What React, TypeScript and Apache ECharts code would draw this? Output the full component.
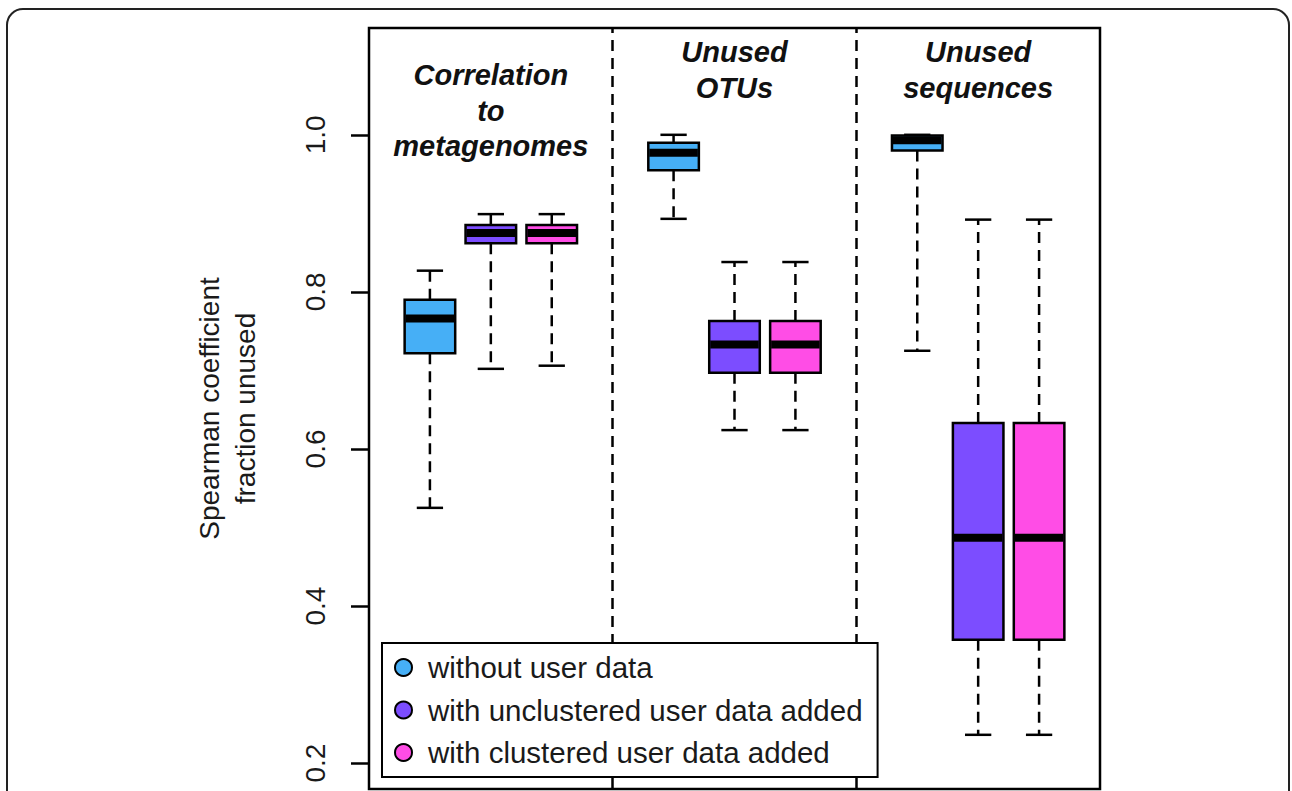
import React, { useEffect, useRef } from "react";
import * as echarts from "echarts";

// ---- data ----
const groupTitles = ["Correlation\nto\nmetagenomes", "Unused\nOTUs", "Unused\nsequences"];
const groupCenters = [2, 6, 10];
const groupTitleY = [110.5, 70, 70];
const separators = [4, 8];
const seriesNames = [
  "without user data",
  "with unclustered user data added",
  "with clustered user data added",
];
const seriesColors = ["#46AFF6", "#7C4DFF", "#FF4DE6"];
const seriesPositions = [
  [1, 5, 9],
  [2, 6, 10],
  [3, 7, 11],
];
// [lower whisker, q1, median, q3, upper whisker] for each group
const withoutUserData = [
  [0.525, 0.722, 0.766, 0.79, 0.827],
  [0.893, 0.955, 0.977, 0.99, 1.0],
  [0.725, 0.98, 0.993, 0.999, 1.0],
];
const unclusteredUserData = [
  [0.702, 0.862, 0.875, 0.885, 0.899],
  [0.624, 0.697, 0.733, 0.763, 0.838],
  [0.236, 0.357, 0.487, 0.633, 0.892],
];
const clusteredUserData = [
  [0.706, 0.862, 0.875, 0.885, 0.899],
  [0.624, 0.697, 0.733, 0.763, 0.838],
  [0.236, 0.357, 0.487, 0.633, 0.892],
];
const yTicks = [0.2, 0.4, 0.6, 0.8, 1.0];
const yMin = 0.167;
const yMax = 1.136;
const xMin = 0;
const xMax = 12;

const allSeries = [withoutUserData, unclusteredUserData, clusteredUserData];
const FONT = '"Liberation Sans", Arial, Helvetica, sans-serif';

export default function App() {
  const ref = useRef<HTMLDivElement>(null);

  useEffect(() => {
    if (!ref.current) return;
    const chart = echarts.init(ref.current, null, { renderer: "svg" });

    const dashed = { stroke: "#000", lineWidth: 2.5, lineDash: [11, 7] };
    const solid = { stroke: "#000", lineWidth: 2.5 };

    const renderItem = (params: any, api: any) => {
      const x = api.value(0);
      const lo = api.coord([x, api.value(1)]);
      const q1 = api.coord([x, api.value(2)]);
      const med = api.coord([x, api.value(3)]);
      const q3 = api.coord([x, api.value(4)]);
      const hi = api.coord([x, api.value(5)]);
      const w = api.size([0.83, 0])[0];
      const capW = w * 0.52;
      const cx = lo[0];
      const color = api.visual("color");
      return {
        type: "group",
        children: [
          { type: "line", shape: { x1: cx, y1: q3[1], x2: cx, y2: hi[1] }, style: dashed },
          { type: "line", shape: { x1: cx, y1: q1[1], x2: cx, y2: lo[1] }, style: dashed },
          { type: "line", shape: { x1: cx - capW / 2, y1: hi[1], x2: cx + capW / 2, y2: hi[1] }, style: solid },
          { type: "line", shape: { x1: cx - capW / 2, y1: lo[1], x2: cx + capW / 2, y2: lo[1] }, style: solid },
          {
            type: "rect",
            shape: { x: cx - w / 2, y: q3[1], width: w, height: q1[1] - q3[1] },
            style: { fill: color, stroke: "#000", lineWidth: 2.5 },
          },
          {
            type: "line",
            shape: { x1: cx - w / 2 + 1, y1: med[1], x2: cx + w / 2 - 1, y2: med[1] },
            style: { stroke: "#000", lineWidth: 8 },
          },
        ],
      };
    };

    const series: any[] = allSeries.map((groups, s) => ({
      name: seriesNames[s],
      type: "custom",
      renderItem,
      z: 2,
      itemStyle: { color: seriesColors[s] },
      encode: { x: 0, y: [1, 2, 3, 4, 5] },
      data: groups.map((g, gi) => [seriesPositions[s][gi], ...g]),
      silent: true,
      clip: false,
      ...(s === 0
        ? {
            markLine: {
              silent: true,
              z: 1,
              symbol: ["none", "none"],
              label: { show: false },
              lineStyle: { color: "#000", type: [11, 7], width: 2.5 },
              emphasis: { disabled: true },
              data: separators.map((v) => ({ xAxis: v })),
            },
          }
        : {}),
    }));

    const option: any = {
      animation: false,
      backgroundColor: "#fff",
      grid: {
        left: 369,
        top: 28,
        width: 731,
        height: 761,
        show: true,
        borderColor: "#000",
        borderWidth: 2.5,
        backgroundColor: "transparent",
        containLabel: false,
        outerBoundsMode: "none",
      },
      xAxis: { type: "value", min: xMin, max: xMax, show: false },
      yAxis: {
        type: "value",
        min: yMin,
        max: yMax,
        axisLine: { show: false },
        splitLine: { show: false },
        axisTick: {
          show: true,
          length: 18,
          customValues: yTicks,
          lineStyle: { color: "#000", width: 2.5 },
        },
        axisLabel: {
          customValues: yTicks,
          rotate: 90,
          margin: 40,
          fontSize: 28,
          fontFamily: FONT,
          color: "#1a1a1a",
          formatter: (v: number) => v.toFixed(1),
        },
        name: "Spearman coefficient\nfraction unused",
        nameLocation: "middle",
        nameRotate: 90,
        nameGap: 106,
        nameTextStyle: { fontSize: 28, fontFamily: FONT, color: "#1a1a1a", lineHeight: 36 },
      },
      legend: {
        orient: "vertical",
        left: 382,
        top: 643,
        z: 20,
        data: seriesNames,
        icon: "circle",
        itemWidth: 39,
        itemHeight: 17,
        itemGap: 8.5,
        padding: [7.5, 15, 7.5, 12],
        backgroundColor: "#fff",
        borderColor: "#000",
        borderWidth: 2,
        borderRadius: 0,
        selectedMode: false,
        itemStyle: { borderColor: "#000", borderWidth: 2 },
        textStyle: { fontSize: 29.5, fontFamily: FONT, color: "#1a1a1a", lineHeight: 34 },
      },
      series,
    };

    chart.setOption(option);

    const titleGraphics = groupTitles.map((t, i) => {
      const px = chart.convertToPixel({ gridIndex: 0 }, [groupCenters[i], yMax]) as number[];
      return {
        type: "text",
        x: px[0],
        y: groupTitleY[i],
        silent: true,
        style: {
          text: t,
          fontSize: 29,
          fontWeight: "bold",
          fontStyle: "italic",
          fontFamily: FONT,
          fill: "#111",
          align: "center",
          textAlign: "center",
          verticalAlign: "middle",
          textVerticalAlign: "middle",
          lineHeight: 35.5,
        },
      };
    });

    chart.setOption({
      graphic: [
        {
          type: "rect",
          silent: true,
          z: -10,
          shape: { x: 7, y: 9, width: 1282, height: 900, r: 16 },
          style: { fill: "none", stroke: "#222", lineWidth: 2 },
        },
        ...titleGraphics,
      ],
    });

    return () => chart.dispose();
  }, []);

  return (
    <div
      ref={ref}
      style={{ position: "fixed", left: 0, top: 0, width: 1292, height: 791, background: "#fff" }}
    />
  );
}
